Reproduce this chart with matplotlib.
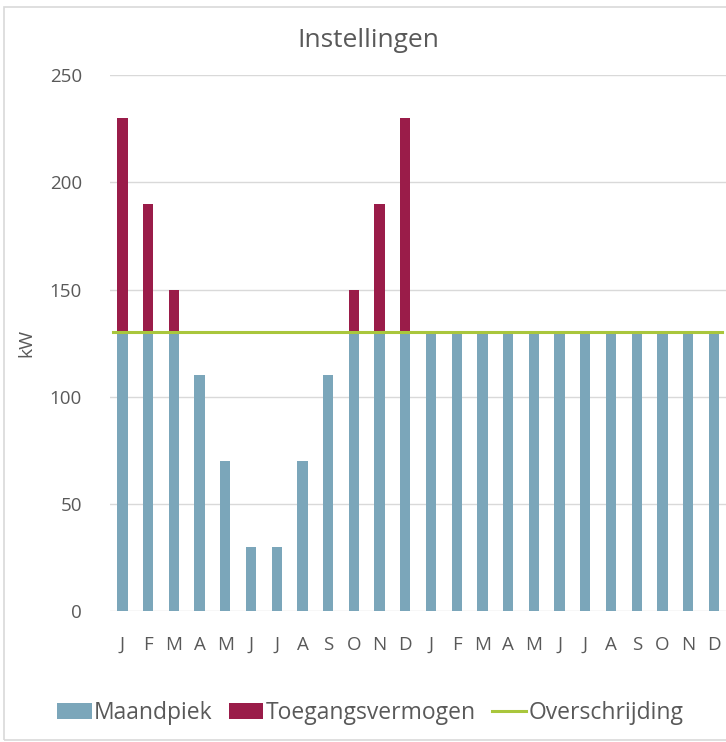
import matplotlib
matplotlib.use('Agg')
import matplotlib.pyplot as plt
from matplotlib.patches import Rectangle

months = ['J', 'F', 'M', 'A', 'M', 'J', 'J', 'A', 'S', 'O', 'N', 'D'] * 2
maandpiek = [130, 130, 130, 110, 70, 30, 30, 70, 110, 130, 130, 130,
             130, 130, 130, 130, 130, 130, 130, 130, 130, 130, 130, 130]
toegang = [100, 60, 20, 0, 0, 0, 0, 0, 0, 20, 60, 100,
           0, 0, 0, 0, 0, 0, 0, 0, 0, 0, 0, 0]
overschrijding = [130] * 24

plt.rcParams['font.family'] = ['Open Sans', 'DejaVu Sans']
grey = '#595959'

fig = plt.figure(figsize=(7.26, 7.42), dpi=100)
ax = fig.add_axes([0.151, 0.1765, 0.85, 0.722])

x = list(range(len(months)))
b1 = ax.bar(x, maandpiek, width=0.4, color='#7BA6BA', label='Maandpiek', zorder=2)
b2 = ax.bar(x, toegang, width=0.4, bottom=maandpiek, color='#9A1C49',
            label='Toegangsvermogen', zorder=2)
ln, = ax.plot([-0.35] + x[1:-1] + [23.3], overschrijding, color='#A9C63C', lw=2.2,
              label='Overschrijding', zorder=3)

ax.set_xlim(-0.5, 23.5)
ax.set_ylim(0, 250)
ax.set_yticks(range(0, 251, 50))
ax.set_xticks(x)
ax.set_xticklabels(months)
ax.yaxis.grid(True, color='#D9D9D9', lw=1, zorder=0)
for s in ax.spines.values():
    s.set_visible(False)
ax.tick_params(length=0, colors=grey, labelsize=13.5)
ax.tick_params(axis='x', pad=18)
ax.tick_params(axis='y', pad=20)
ax.set_ylabel('kW', color=grey, fontsize=14, labelpad=10)
fig.text(0.507, 0.946, 'Instellingen', color=grey, fontsize=19, ha='center', va='center')

fig.legend([b1, b2, ln], ['Maandpiek', 'Toegangsvermogen', 'Overschrijding'],
           loc='center', bbox_to_anchor=(0.51, 0.039), ncol=3, frameon=False,
           fontsize=16.5, labelcolor=grey, handlelength=1.5, handleheight=0.65,
           handletextpad=0.1, columnspacing=0.7)

fig.patches.append(Rectangle((4 / 726, 2 / 742), 1.0, 733 / 742, transform=fig.transFigure,
                             fill=False, edgecolor='#D9D9D9', lw=1.2))

fig.savefig('out.png', dpi=100)
